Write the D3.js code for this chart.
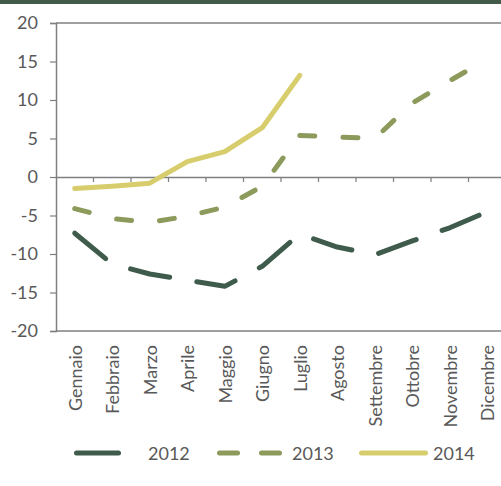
<!DOCTYPE html>
<html><head><meta charset="utf-8">
<script src="https://cdnjs.cloudflare.com/ajax/libs/d3/7.8.5/d3.min.js"></script>
<style>
html,body{margin:0;padding:0;background:#fff;}
svg{display:block;font-family:Lato,"Open Sans",sans-serif;}
</style></head><body>
<svg id="chart" width="501" height="486"></svg>
<script>
const months = ["Gennaio","Febbraio","Marzo","Aprile","Maggio","Giugno","Luglio","Agosto","Settembre","Ottobre","Novembre","Dicembre"];
const yTicks = [-20,-15,-10,-5,0,5,10,15,20];
const seriesNames = ["2012","2013","2014"];
const values2012 = [-7.3,-11.3,-12.6,-13.4,-14.2,-11.6,-7.4,-9.1,-10.1,-8.3,-6.6,-4.5];
const values2013 = [-4.1,-5.4,-5.9,-5.1,-3.9,-1.2,5.4,5.2,5.0,9.6,12.5,15.3];
const values2014 = [-1.5,-1.2,-0.8,2.0,3.3,6.4,13.2];
const colors = ["#3f5b4b","#8c9a5c","#d8cd6c"];
const dashes = ["40,27.5","15,28.2",null];

const svg = d3.select("#chart");
const W = 501, H = 486;
const mLeft = 56, mTop = 23, mBottom = 331, mRightEdge = 506;

svg.append("rect").attr("x",0).attr("y",0).attr("width",W).attr("height",4).attr("fill","#435a48");

const x = d3.scaleBand().domain(months).range([mLeft, mRightEdge]);
const y = d3.scaleLinear().domain([-20,20]).range([mBottom, mTop]);

const g = svg.append("g");
g.append("line").attr("x1",mLeft).attr("x2",W).attr("y1",y(20)).attr("y2",y(20)).attr("stroke","#7f7f7f").attr("stroke-width",1.5);
g.append("line").attr("x1",mLeft).attr("x2",W).attr("y1",y(-20)).attr("y2",y(-20)).attr("stroke","#7f7f7f").attr("stroke-width",1.5);

// y axis
const yAxis = d3.axisLeft(y).tickValues(yTicks).tickSize(6).tickPadding(12).tickFormat(d=>String(d));
const ya = svg.append("g").attr("transform",`translate(${mLeft},0)`).call(yAxis);
ya.select(".domain").attr("stroke","#7f7f7f").attr("stroke-width",1.5);
ya.selectAll(".tick line").attr("stroke","#7f7f7f").attr("stroke-width",1.2);
ya.selectAll(".tick text").attr("fill","#595959").style("font-size","18px").style("font-family","Lato");

// x axis at zero
const xAxis = d3.axisBottom(x).tickSize(0).tickFormat("");
const xa = svg.append("g").attr("transform",`translate(0,${y(0)})`).call(xAxis);
xa.select(".domain").attr("stroke","#7f7f7f").attr("stroke-width",1.5);
xa.selectAll(".bt").data(months.slice(1)).enter().append("line")
  .attr("class","bt")
  .attr("x1",d=>x(d)).attr("x2",d=>x(d)).attr("y1",0).attr("y2",5)
  .attr("stroke","#7f7f7f").attr("stroke-width",1.2);

// x labels rotated
svg.append("g").selectAll("text").data(months).enter().append("text")
  .attr("transform",d=>`translate(${x(d)+x.bandwidth()/2+7},${mBottom+14}) rotate(-90)`)
  .attr("text-anchor","end")
  .attr("fill","#595959").style("font-size","18px")
  .text(d=>d);

// lines
const allSeries = [values2012, values2013, values2014];
const line = d3.line().x((d,i)=>x(months[i])+x.bandwidth()/2).y(d=>y(d));
allSeries.forEach((vals,k)=>{
  svg.append("path").datum(vals).attr("d",line)
    .attr("fill","none").attr("stroke",colors[k]).attr("stroke-width",5)
    .attr("stroke-linecap","round").attr("stroke-linejoin","round")
    .attr("stroke-dasharray",dashes[k]);
});

// legend
const ly = 453;
const leg = [
  {x1:76.5,x2:118.5,tx:148,dash:null},
  {x1:219.5,x2:279.5,tx:292,dash:"18,24"},
  {x1:361.5,x2:425.5,tx:433,dash:null}
];
leg.forEach((l,k)=>{
  svg.append("line").attr("x1",l.x1).attr("x2",l.x2).attr("y1",ly).attr("y2",ly)
    .attr("stroke",colors[k]).attr("stroke-width",5).attr("stroke-linecap","round")
    .attr("stroke-dasharray",l.dash);
  svg.append("text").attr("x",l.tx).attr("y",ly+7).attr("fill","#595959")
    .style("font-size","18px").text(seriesNames[k]);
});
</script>
</body></html>
